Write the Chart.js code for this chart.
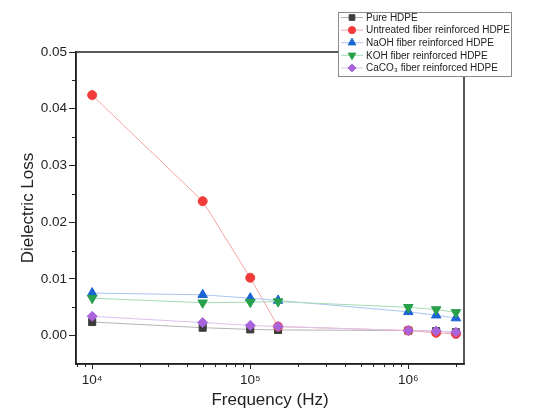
<!DOCTYPE html>
<html lang="en">
<head>
<meta charset="UTF-8">
<title>Dielectric Loss vs Frequency</title>
<script src="https://cdn.jsdelivr.net/npm/chart.js"></script>
<style>
  body { margin: 0; background: #fff; }
  canvas { display: block; }
</style>
</head>
<body>
<canvas id="chart" width="534" height="413"></canvas>
<script>
// data
const freq = [1e4, 5e4, 1e5, 1.5e5, 1e6, 1.5e6, 2e6];
const pureHDPE = [0.0024, 0.0014, 0.0011, 0.0010, 0.0009, 0.0008, 0.0006];
const untreated = [0.0424, 0.0237, 0.0102, 0.0016, 0.0009, 0.0005, 0.0003];
const naoh = [0.0075, 0.0072, 0.0066, 0.0062, 0.0042, 0.0036, 0.0031];
const koh = [0.0066, 0.0058, 0.0059, 0.0060, 0.0050, 0.0046, 0.0041];
const caco3 = [0.0034, 0.0023, 0.0018, 0.0016, 0.0009, 0.0008, 0.0006];

const seriesNames = ['Pure HDPE', 'Untreated fiber reinforced HDPE', 'NaOH fiber reinforced HDPE',
                     'KOH fiber reinforced HDPE', 'CaCO\u2083 fiber reinforced HDPE'];

const xTickValues = [1e4, 1e5, 1e6];
const xTickLabels = ['10\u2074', '10\u2075', '10\u2076'];
const xMinorTicks = [8000, 9000, 2e4, 3e4, 4e4, 5e4, 6e4, 7e4, 8e4, 9e4,
                     2e5, 3e5, 4e5, 5e5, 6e5, 7e5, 8e5, 9e5, 2e6];
const yTickValues = [0, 0.01, 0.02, 0.03, 0.04, 0.05];
const yMinorTicks = [0.005, 0.015, 0.025, 0.035, 0.045];

const FONT = 'Arial, "Liberation Sans", sans-serif';
const INK = '#222';
Chart.defaults.font.family = FONT;
Chart.defaults.color = INK;

function pts(vals) { return freq.map((f, i) => ({x: f, y: vals[i]})); }

function series(label, vals, line, mark, style, radius, rotation, order) {
    return {
        label: label,
        data: pts(vals),
        borderColor: line,
        borderWidth: 1,
        backgroundColor: mark,
        pointBackgroundColor: mark,
        pointBorderColor: mark,
        pointBorderWidth: 1,
        pointStyle: style,
        pointRadius: radius,
        pointRotation: rotation,
        tension: 0,
        order: order
    };
}

const datasets = [
    series(seriesNames[0], pureHDPE, '#b4b4b4', '#3c3c3c', 'rect', 5, 0, 5),
    series(seriesNames[1], untreated, '#f6a5a5', '#f23c3c', 'circle', 4.5, 0, 4),
    series(seriesNames[2], naoh, '#a9c6ef', '#1c63d6', 'triangle', 5.5, 0, 3),
    series(seriesNames[3], koh, '#a6dab4', '#28a04c', 'triangle', 5.5, 180, 2),
    series(seriesNames[4], caco3, '#dcc2f0', '#a964dc', 'rectRot', 5, 0, 1)
];

// minor ticks, box frame and the framed legend
const framePlugin = {
    id: 'frame',
    afterDraw(chart) {
        const ctx = chart.ctx;
        const a = chart.chartArea;
        const xs = chart.scales.x, ys = chart.scales.y;
        ctx.save();
        ctx.strokeStyle = INK;
        ctx.lineWidth = 1;
        ctx.beginPath();
        xMinorTicks.forEach(v => {
            const px = Math.round(xs.getPixelForValue(v)) + 0.5;
            ctx.moveTo(px, a.bottom);
            ctx.lineTo(px, a.bottom + 3);
        });
        yMinorTicks.forEach(v => {
            const py = Math.round(ys.getPixelForValue(v)) + 0.5;
            ctx.moveTo(a.left, py);
            ctx.lineTo(a.left - 4, py);
        });
        ctx.stroke();

        ctx.lineWidth = 1.5;
        ctx.strokeRect(a.left, a.top, a.right - a.left, a.bottom - a.top);

        // legend
        const lx = 338, ly = 12, lw = 173, lh = 64;
        ctx.fillStyle = '#fff';
        ctx.fillRect(lx, ly, lw, lh);
        ctx.lineWidth = 1;
        ctx.strokeStyle = '#8a8a8a';
        ctx.strokeRect(lx + 0.5, ly + 0.5, lw, lh);
        ctx.font = '10px ' + FONT;
        ctx.textBaseline = 'middle';
        ctx.textAlign = 'left';
        chart.data.datasets.forEach((ds, i) => {
            const y = 17.5 + i * 12.6;
            ctx.strokeStyle = ds.borderColor;
            ctx.beginPath();
            ctx.moveTo(341, y);
            ctx.lineTo(363, y);
            ctx.stroke();
            ctx.fillStyle = ds.pointBackgroundColor;
            ctx.strokeStyle = ds.pointBorderColor;
            Chart.helpers.drawPoint(ctx, {
                pointStyle: ds.pointStyle,
                radius: ds.pointRadius * 0.8,
                rotation: ds.pointRotation,
                borderWidth: 1
            }, 352, y);
            ctx.fillStyle = INK;
            ctx.fillText(ds.label, 366, y + 0.5);
        });
        ctx.restore();
    }
};

new Chart(document.getElementById('chart'), {
    type: 'line',
    data: { datasets: datasets },
    options: {
        responsive: false,
        animation: false,
        layout: { padding: { left: 0, right: 70, top: 52, bottom: 0 } },
        plugins: { legend: { display: false }, tooltip: { enabled: false } },
        scales: {
            x: {
                type: 'logarithmic',
                min: 7900,
                max: 2250000,
                afterBuildTicks: s => { s.ticks = xTickValues.map(v => ({ value: v })); },
                afterFit: s => { s.height = 49; },
                ticks: {
                    callback: (v, i) => xTickLabels[i],
                    font: { size: 13.5 },
                    color: INK,
                    padding: 3,
                    maxRotation: 0,
                    autoSkip: false
                },
                grid: { drawOnChartArea: false, tickLength: 5, color: INK, lineWidth: 1 },
                border: { color: INK, width: 1.5 },
                title: {
                    display: true,
                    text: 'Frequency (Hz)',
                    font: { size: 17 },
                    color: INK,
                    padding: { top: 0, bottom: 2 }
                }
            },
            y: {
                type: 'linear',
                min: -0.005,
                max: 0.05,
                afterBuildTicks: s => { s.ticks = yTickValues.map(v => ({ value: v })); },
                afterFit: s => { s.width = 76; },
                ticks: {
                    callback: v => v.toFixed(2),
                    font: { size: 13.5 },
                    color: INK,
                    padding: 2
                },
                grid: { drawOnChartArea: false, tickLength: 7, color: INK, lineWidth: 1 },
                border: { color: INK, width: 1.5 },
                title: {
                    display: true,
                    text: 'Dielectric Loss',
                    font: { size: 17 },
                    color: INK,
                    padding: { top: 18, bottom: 0 }
                }
            }
        }
    },
    plugins: [framePlugin]
});
</script>
</body>
</html>
